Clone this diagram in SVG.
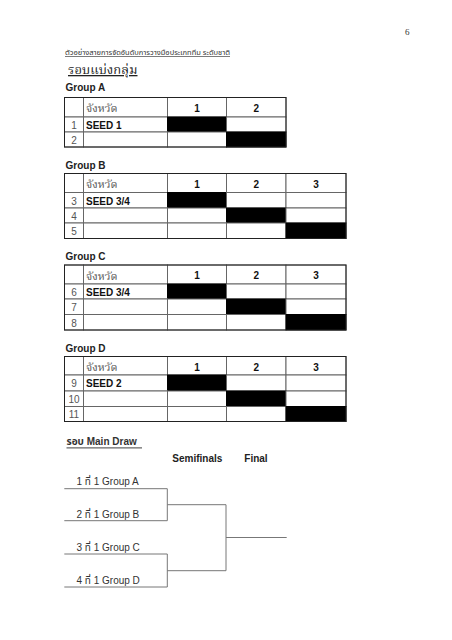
<svg xmlns="http://www.w3.org/2000/svg" width="452" height="640" viewBox="0 0 452 640">
<style>
.bg{fill:#fff}
.cell{fill:#fff;stroke:#666;stroke-width:1}
.blk{fill:#000;stroke:#000;stroke-width:1}
.outer{fill:none;stroke:#222;stroke-width:1}
.th{font-family:"Noto Serif Thai","Noto Sans Thai","Loma","Garuda","Norasi","Liberation Serif",serif;font-size:11px;fill:#555}
.hn{font-family:"Liberation Sans",Arial,sans-serif;font-size:10px;font-weight:bold;fill:#111;text-anchor:middle}
.rn{font-family:"Liberation Sans",Arial,sans-serif;font-size:10px;fill:#555;text-anchor:middle}
.seed{font-family:"Liberation Sans",Arial,sans-serif;font-size:10px;font-weight:bold;fill:#111}
.gl{font-family:"Liberation Sans",Arial,sans-serif;font-size:10px;font-weight:bold;fill:#222}
.br{fill:none;stroke:#777;stroke-width:1}
.bt{font-family:"Liberation Sans","Noto Sans Thai","Loma",Arial,sans-serif;font-size:10px;fill:#333}
</style>
<rect class="bg" x="0" y="0" width="452" height="640"/>

<g id="header">
<text x="405" y="35" font-family="Liberation Serif,serif" font-size="9" fill="#333">6</text>
<text x="65" y="55" font-family="Noto Sans Thai,Loma,Garuda,Liberation Sans,sans-serif" font-size="6.5" fill="#333" text-decoration="underline" textLength="165" lengthAdjust="spacingAndGlyphs">ตัวอย่างสายการจัดอันดับการวางมือประเภททีม ระดับชาติ</text>
<text x="68" y="74" font-family="Noto Serif Thai,Norasi,Noto Sans Thai,Liberation Serif,serif" font-size="13" fill="#222" text-decoration="underline">รอบแบ่งกลุ่ม</text>
</g>

<g id="groupA">
<text class="gl" x="65.5" y="91">Group A</text>
<rect class="cell" x="64.5" y="97.5" width="19" height="19.5"/>
<rect class="cell" x="83.5" y="97.5" width="84" height="19.5"/>
<rect class="cell" x="167.5" y="97.5" width="59" height="19.5"/>
<rect class="cell" x="226.5" y="97.5" width="59.5" height="19.5"/>
<rect class="cell" x="64.5" y="117" width="19" height="15"/>
<rect class="cell" x="83.5" y="117" width="84" height="15"/>
<rect class="blk" x="167.5" y="117" width="59" height="15"/>
<rect class="cell" x="226.5" y="117" width="59.5" height="15"/>
<rect class="cell" x="64.5" y="132" width="19" height="15"/>
<rect class="cell" x="83.5" y="132" width="84" height="15"/>
<rect class="cell" x="167.5" y="132" width="59" height="15"/>
<rect class="blk" x="226.5" y="132" width="59.5" height="15"/>
<rect class="outer" x="64.5" y="97.5" width="221.5" height="49.5"/>
<text class="th" x="86" y="112">จังหวัด</text>
<text class="hn" x="197" y="111.5">1</text>
<text class="hn" x="256.3" y="111.5">2</text>
<text class="rn" x="74" y="128.5">1</text>
<text class="seed" x="86" y="128.5">SEED 1</text>
<text class="rn" x="74" y="143.5">2</text>
</g>

<g id="groupB">
<text class="gl" x="65.5" y="168.5">Group B</text>
<rect class="cell" x="64.5" y="173.5" width="19" height="19"/>
<rect class="cell" x="83.5" y="173.5" width="84" height="19"/>
<rect class="cell" x="167.5" y="173.5" width="59" height="19"/>
<rect class="cell" x="226.5" y="173.5" width="59.5" height="19"/>
<rect class="cell" x="286" y="173.5" width="60" height="19"/>
<rect class="cell" x="64.5" y="192.5" width="19" height="15.5"/>
<rect class="cell" x="83.5" y="192.5" width="84" height="15.5"/>
<rect class="blk" x="167.5" y="192.5" width="59" height="15.5"/>
<rect class="cell" x="226.5" y="192.5" width="59.5" height="15.5"/>
<rect class="cell" x="286" y="192.5" width="60" height="15.5"/>
<rect class="cell" x="64.5" y="208" width="19" height="15"/>
<rect class="cell" x="83.5" y="208" width="84" height="15"/>
<rect class="cell" x="167.5" y="208" width="59" height="15"/>
<rect class="blk" x="226.5" y="208" width="59.5" height="15"/>
<rect class="cell" x="286" y="208" width="60" height="15"/>
<rect class="cell" x="64.5" y="223" width="19" height="15.5"/>
<rect class="cell" x="83.5" y="223" width="84" height="15.5"/>
<rect class="cell" x="167.5" y="223" width="59" height="15.5"/>
<rect class="cell" x="226.5" y="223" width="59.5" height="15.5"/>
<rect class="blk" x="286" y="223" width="60" height="15.5"/>
<rect class="outer" x="64.5" y="173.5" width="281.5" height="65"/>
<text class="th" x="86" y="188">จังหวัด</text>
<text class="hn" x="197" y="187.5">1</text>
<text class="hn" x="256.3" y="187.5">2</text>
<text class="hn" x="316" y="187.5">3</text>
<text class="rn" x="74" y="204.5">3</text>
<text class="seed" x="86" y="204.5">SEED 3/4</text>
<text class="rn" x="74" y="219.5">4</text>
<text class="rn" x="74" y="235">5</text>
</g>

<g id="groupC">
<text class="gl" x="65.5" y="260">Group C</text>
<rect class="cell" x="64.5" y="265" width="19" height="19"/>
<rect class="cell" x="83.5" y="265" width="84" height="19"/>
<rect class="cell" x="167.5" y="265" width="59" height="19"/>
<rect class="cell" x="226.5" y="265" width="59.5" height="19"/>
<rect class="cell" x="286" y="265" width="60" height="19"/>
<rect class="cell" x="64.5" y="284" width="19" height="15"/>
<rect class="cell" x="83.5" y="284" width="84" height="15"/>
<rect class="blk" x="167.5" y="284" width="59" height="15"/>
<rect class="cell" x="226.5" y="284" width="59.5" height="15"/>
<rect class="cell" x="286" y="284" width="60" height="15"/>
<rect class="cell" x="64.5" y="299" width="19" height="15.5"/>
<rect class="cell" x="83.5" y="299" width="84" height="15.5"/>
<rect class="cell" x="167.5" y="299" width="59" height="15.5"/>
<rect class="blk" x="226.5" y="299" width="59.5" height="15.5"/>
<rect class="cell" x="286" y="299" width="60" height="15.5"/>
<rect class="cell" x="64.5" y="314.5" width="19" height="15.5"/>
<rect class="cell" x="83.5" y="314.5" width="84" height="15.5"/>
<rect class="cell" x="167.5" y="314.5" width="59" height="15.5"/>
<rect class="cell" x="226.5" y="314.5" width="59.5" height="15.5"/>
<rect class="blk" x="286" y="314.5" width="60" height="15.5"/>
<rect class="outer" x="64.5" y="265" width="281.5" height="65"/>
<text class="th" x="86" y="279.5">จังหวัด</text>
<text class="hn" x="197" y="279">1</text>
<text class="hn" x="256.3" y="279">2</text>
<text class="hn" x="316" y="279">3</text>
<text class="rn" x="74" y="295.5">6</text>
<text class="seed" x="86" y="295.5">SEED 3/4</text>
<text class="rn" x="74" y="311">7</text>
<text class="rn" x="74" y="326.5">8</text>
</g>

<g id="groupD">
<text class="gl" x="65.5" y="351.5">Group D</text>
<rect class="cell" x="64.5" y="356.5" width="19" height="18.5"/>
<rect class="cell" x="83.5" y="356.5" width="84" height="18.5"/>
<rect class="cell" x="167.5" y="356.5" width="59" height="18.5"/>
<rect class="cell" x="226.5" y="356.5" width="59.5" height="18.5"/>
<rect class="cell" x="286" y="356.5" width="60" height="18.5"/>
<rect class="cell" x="64.5" y="375" width="19" height="16"/>
<rect class="cell" x="83.5" y="375" width="84" height="16"/>
<rect class="blk" x="167.5" y="375" width="59" height="16"/>
<rect class="cell" x="226.5" y="375" width="59.5" height="16"/>
<rect class="cell" x="286" y="375" width="60" height="16"/>
<rect class="cell" x="64.5" y="391" width="19" height="15.5"/>
<rect class="cell" x="83.5" y="391" width="84" height="15.5"/>
<rect class="cell" x="167.5" y="391" width="59" height="15.5"/>
<rect class="blk" x="226.5" y="391" width="59.5" height="15.5"/>
<rect class="cell" x="286" y="391" width="60" height="15.5"/>
<rect class="cell" x="64.5" y="406.5" width="19" height="15"/>
<rect class="cell" x="83.5" y="406.5" width="84" height="15"/>
<rect class="cell" x="167.5" y="406.5" width="59" height="15"/>
<rect class="cell" x="226.5" y="406.5" width="59.5" height="15"/>
<rect class="blk" x="286" y="406.5" width="60" height="15"/>
<rect class="outer" x="64.5" y="356.5" width="281.5" height="65"/>
<text class="th" x="86" y="371">จังหวัด</text>
<text class="hn" x="197" y="370.5">1</text>
<text class="hn" x="256.3" y="370.5">2</text>
<text class="hn" x="316" y="370.5">3</text>
<text class="rn" x="74" y="387">9</text>
<text class="seed" x="86" y="387">SEED 2</text>
<text class="rn" x="74" y="402.5">10</text>
<text class="rn" x="74" y="418">11</text>
</g>

<g id="maindraw-title">
<text x="66.5" y="445" font-family="Liberation Sans,Noto Sans Thai,Loma,sans-serif" font-size="10" font-weight="bold" fill="#333">รอบ Main Draw</text>
<line x1="66.5" y1="447.8" x2="142" y2="447.8" stroke="#666" stroke-width="1.2"/>
<text class="gl" x="172.3" y="462">Semifinals</text>
<text class="gl" x="244.3" y="462">Final</text>
</g>

<g id="entrants">
<text class="bt" x="76.5" y="485">1 ที่ 1 Group A</text>
<text class="bt" x="76.5" y="517.5">2 ที่ 1 Group B</text>
<text class="bt" x="76.5" y="550.5">3 ที่ 1 Group C</text>
<text class="bt" x="76.5" y="583.5">4 ที่ 1 Group D</text>
</g>

<g id="connectors">
<path class="br" d="M64.3 488.7 H167.3 V520.7 H64.3"/>
<path class="br" d="M64.3 554 H167.3 V587 H64.3"/>
<path class="br" d="M167.3 504.7 H226 V570.7 H167.3"/>
<path class="br" d="M226 537.5 H286.7"/>
</g>
</svg>
